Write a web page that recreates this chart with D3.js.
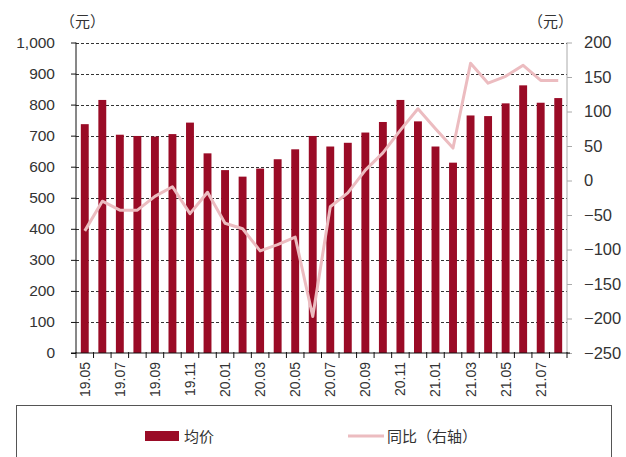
<!DOCTYPE html>
<html>
<head>
<meta charset="utf-8">
<script src="https://cdn.jsdelivr.net/npm/d3@7"></script>
<style>
  body { margin: 0; background: #fff; }
  svg { display: block; font-family: "Liberation Sans", Arial, sans-serif; }
  .cjk { font-family: "Noto Sans CJK SC", sans-serif; }
</style>
</head>
<body>
<svg width="626" height="457"></svg>
<script>
// months shown on the x axis
var months = ["19.05","19.06","19.07","19.08","19.09","19.10","19.11","19.12",
    "20.01","20.02","20.03","20.04","20.05","20.06","20.07","20.08","20.09","20.10","20.11","20.12",
    "21.01","21.02","21.03","21.04","21.05","21.06","21.07","21.08"];

// 均价 (元), left axis
var avgPrice = [737,815,703,699,697,705,742,643,589,568,594,624,656,699,665,677,710,744,815,746,
    665,613,765,763,804,862,806,821];

// 同比 (元), right axis
var yoy = [-73,-30,-43,-43,-23,-9,-48,-17,-62,-70,-102,-93,-82,-197,-38,-18,15,40,73,104,
    75,47,170,141,151,167,145,145];

var leftTicks = [0,100,200,300,400,500,600,700,800,900,1000];
var rightTicks = [-250,-200,-150,-100,-50,0,50,100,150,200];

var svg = d3.select("svg");
var plotL = 76, plotR = 567, plotT = 42.5, plotB = 353;

var x = d3.scaleBand().domain(months).range([plotL, plotR])
    .paddingInner(0.55).paddingOuter(0.275);
var y = d3.scaleLinear().domain([0, 1000]).range([plotB, plotT]);
var y2 = d3.scaleLinear().domain([-250, 200]).range([plotB, plotT]);

// gridlines
svg.append("g").selectAll("line")
    .data(leftTicks.filter(function(d) { return d > 0; }))
    .enter().append("line")
    .attr("x1", plotL).attr("x2", plotR)
    .attr("y1", function(d) { return Math.round(y(d)) + 0.5; })
    .attr("y2", function(d) { return Math.round(y(d)) + 0.5; })
    .attr("stroke", "#333")
    .attr("stroke-width", 1)
    .attr("stroke-dasharray", "3,2");

// bars
svg.append("g").selectAll("rect")
    .data(avgPrice)
    .enter().append("rect")
    .attr("x", function(d, i) { return x(months[i]); })
    .attr("y", function(d) { return y(d); })
    .attr("width", x.bandwidth())
    .attr("height", function(d) { return plotB - y(d); })
    .attr("fill", "#9a0b26");

// yoy line
var line = d3.line()
    .x(function(d, i) { return x(months[i]) + x.bandwidth() / 2; })
    .y(function(d) { return y2(d); });

svg.append("path")
    .datum(yoy)
    .attr("d", line)
    .attr("fill", "none")
    .attr("stroke", "#ecbcc0")
    .attr("stroke-width", 3)
    .attr("stroke-linejoin", "round");

// left axis
var gl = svg.append("g").attr("transform", "translate(" + plotL + ",0)");
gl.call(d3.axisLeft(y).tickValues(leftTicks).tickSize(5).tickPadding(16)
    .tickFormat(d3.format(",")));
gl.select(".domain").attr("stroke", "#111").attr("d", "M0," + plotT + "V" + plotB);
gl.selectAll(".tick line").attr("stroke", "#111");
gl.selectAll("text").attr("font-size", 15.5).attr("fill", "#333");

// right axis
var gr = svg.append("g").attr("transform", "translate(" + plotR + ",0)");
gr.call(d3.axisRight(y2).tickValues(rightTicks).tickSize(5).tickPadding(12));
gr.select(".domain").attr("stroke", "#aaa").attr("d", "M0," + plotT + "V" + plotB);
gr.selectAll(".tick line").attr("stroke", "#aaa");
gr.selectAll("text").attr("font-size", 16.5).attr("fill", "#333");

// bottom axis
var step = x.step();
svg.append("line")
    .attr("x1", plotL - 5).attr("x2", plotR + 3)
    .attr("y1", plotB).attr("y2", plotB)
    .attr("stroke", "#111");
svg.append("g").selectAll("line")
    .data(months.concat(["end"]))
    .enter().append("line")
    .attr("x1", function(d, i) { return x(months[0]) + x.bandwidth() / 2 - step / 2 + i * step; })
    .attr("x2", function(d, i) { return x(months[0]) + x.bandwidth() / 2 - step / 2 + i * step; })
    .attr("y1", plotB - 1).attr("y2", plotB + 5)
    .attr("stroke", "#111");

svg.append("g").selectAll("text")
    .data(months.filter(function(d, i) { return i % 2 === 0; }))
    .enter().append("text")
    .attr("transform", function(d) {
        return "translate(" + (x(d) + x.bandwidth() / 2 + 5) + "," + (plotB + 9) + ") rotate(-90)";
    })
    .attr("text-anchor", "end")
    .attr("font-size", 14)
    .attr("fill", "#333")
    .text(function(d) { return d; });

// unit labels
svg.append("text").attr("class", "cjk")
    .attr("x", 60).attr("y", 27).attr("font-size", 15).attr("fill", "#333")
    .text("（元）");
svg.append("text").attr("class", "cjk")
    .attr("x", 528).attr("y", 27).attr("font-size", 15).attr("fill", "#333")
    .text("（元）");

// legend
svg.append("rect")
    .attr("x", 16.5).attr("y", 405.5).attr("width", 595).attr("height", 60)
    .attr("fill", "none").attr("stroke", "#555");
svg.append("rect")
    .attr("x", 145).attr("y", 431).attr("width", 34).attr("height", 10)
    .attr("fill", "#9a0b26");
svg.append("text").attr("class", "cjk")
    .attr("x", 184).attr("y", 442).attr("font-size", 15).attr("fill", "#333")
    .text("均价");
svg.append("line")
    .attr("x1", 348).attr("x2", 384).attr("y1", 436).attr("y2", 436)
    .attr("stroke", "#ecbcc0").attr("stroke-width", 3);
svg.append("text").attr("class", "cjk")
    .attr("x", 387).attr("y", 442).attr("font-size", 15).attr("fill", "#333")
    .text("同比（右轴）");
</script>
</body>
</html>
